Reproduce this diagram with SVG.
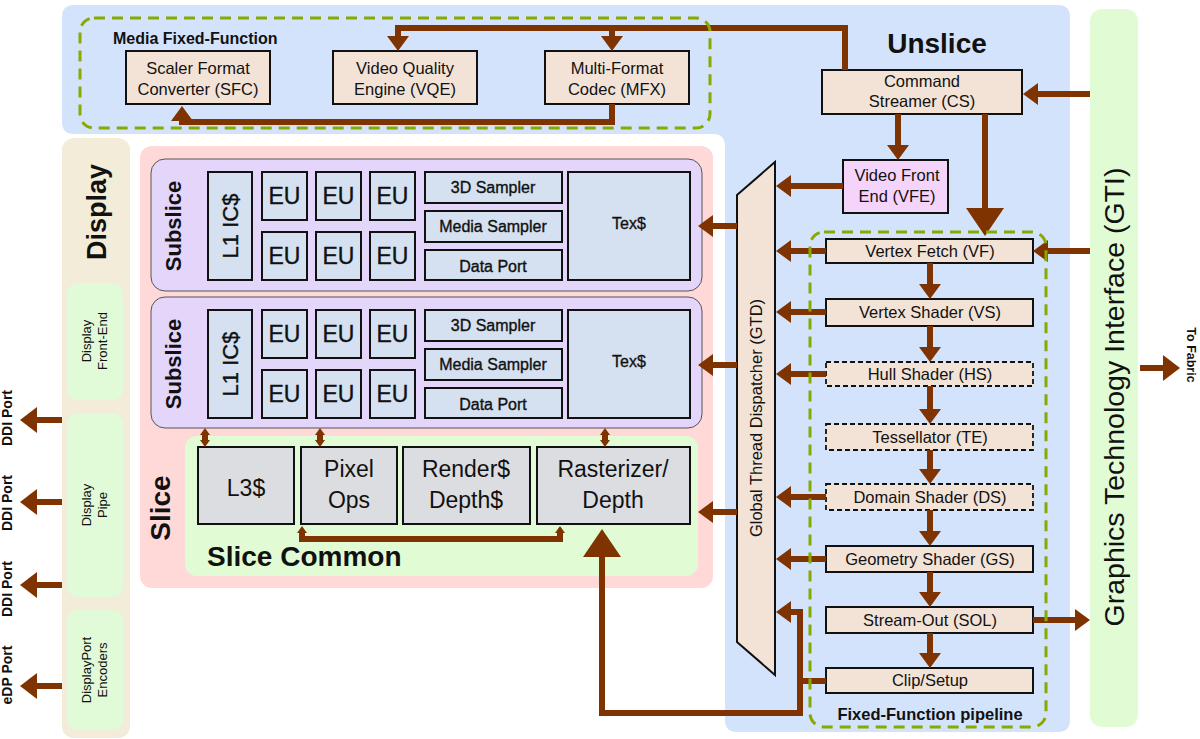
<svg xmlns="http://www.w3.org/2000/svg" width="1200" height="739" viewBox="0 0 1200 739">
<style>
text{font-family:"Liberation Sans",Arial,sans-serif;fill:#111}
.b{font-weight:bold}
.box{fill:#f3e3d7;stroke:#111;stroke-width:2}
.dbox{fill:#f3e3d7;stroke:#111;stroke-width:1.8;stroke-dasharray:5,3}
.ss{fill:#d5e0f0;stroke:#111;stroke-width:2}
.sc{fill:#dcdde1;stroke:#111;stroke-width:2}
.dg{fill:#e1fad7}
.dash{fill:none;stroke:#88aa00;stroke-width:3;stroke-dasharray:11,7}
.c{fill:none;stroke:#7f3300;stroke-width:6}
.semi{stroke:#111;stroke-width:0.35}
.t{font-size:16.5px;text-anchor:middle}
</style>
<defs>
<marker id="a" markerUnits="userSpaceOnUse" markerWidth="15" markerHeight="22" refX="0" refY="11" orient="auto"><path d="M0,0 L15,11 L0,22 z" fill="#7f3300"/></marker>
<marker id="big" markerUnits="userSpaceOnUse" markerWidth="28" markerHeight="38" refX="0" refY="19" orient="auto"><path d="M0,0 L28,19 L0,38 z" fill="#7f3300"/></marker>
<marker id="d" markerUnits="userSpaceOnUse" markerWidth="17" markerHeight="26" refX="0" refY="13" orient="auto"><path d="M0,0 L17,13 L0,26 z" fill="#7f3300"/></marker>
<marker id="s" markerUnits="userSpaceOnUse" markerWidth="7" markerHeight="10" refX="0" refY="5" orient="auto-start-reverse"><path d="M0,0 L7,5 L0,10 z" fill="#7f3300"/></marker>
</defs>

<g id="backgrounds">
<path d="M74,5 H1058 Q1070,5 1070,17 V720 Q1070,732 1058,732 H737 Q725,732 725,720 V146 Q725,134 713,134 H74 Q62,134 62,122 V17 Q62,5 74,5 Z" fill="#d3e3fb"/>
<rect x="1090" y="9" width="48" height="718" rx="12" fill="#e1fcd5"/>
<rect x="62" y="138" width="68" height="600" rx="12" fill="#f3ecd8"/>
<rect x="140" y="146" width="573" height="442" rx="12" fill="#ffd8d8"/>
</g>

<g id="sfc"><rect class="box" x="126" y="51" width="144" height="53"/>
<text class="t" x="198" y="74">Scaler Format</text>
<text class="t" x="198" y="95">Converter (SFC)</text></g>
<g id="vqe"><rect class="box" x="333" y="51" width="144" height="53"/>
<text class="t" x="405" y="74">Video Quality</text>
<text class="t" x="405" y="95">Engine (VQE)</text></g>
<g id="mfx"><rect class="box" x="545" y="51" width="144" height="53"/>
<text class="t" x="617" y="74">Multi-Format</text>
<text class="t" x="617" y="95">Codec (MFX)</text></g>

<g id="unslice"><text class="b" x="937" y="53" font-size="28" text-anchor="middle">Unslice</text></g>
<g id="cs"><rect class="box" x="822" y="70" width="200" height="44"/>
<text class="t" x="922" y="87">Command</text>
<text class="t" x="922" y="107">Streamer (CS)</text></g>
<g id="vfe"><rect x="843" y="160" width="105" height="53" fill="#f5d4fb" stroke="#111" stroke-width="2"/>
<text class="t" x="897" y="181">Video Front</text>
<text class="t" x="897" y="202">End (VFE)</text></g>
<g id="gtd"><polygon points="737,195 775,162 775,675 737,642" fill="#f3e3d7" stroke="#111" stroke-width="2"/>
<text class="t" transform="translate(762,418) rotate(-90)">Global Thread Dispatcher (GTD)</text></g>

<g id="vf"><rect class="box" x="826" y="239" width="207" height="24"/><text class="t" x="930" y="257">Vertex Fetch (VF)</text></g>
<g id="vs"><rect class="box" x="826" y="299" width="207" height="27"/><text class="t" x="930" y="318">Vertex Shader (VS)</text></g>
<g id="hs"><rect class="dbox" x="826" y="362" width="207" height="24"/><text class="t" x="930" y="380">Hull Shader (HS)</text></g>
<g id="te"><rect class="dbox" x="826" y="424" width="207" height="26"/><text class="t" x="930" y="443">Tessellator (TE)</text></g>
<g id="ds"><rect class="dbox" x="826" y="484" width="207" height="26"/><text class="t" x="930" y="503">Domain Shader (DS)</text></g>
<g id="gs"><rect class="box" x="826" y="546" width="207" height="26"/><text class="t" x="930" y="565">Geometry Shader (GS)</text></g>
<g id="sol"><rect class="box" x="826" y="607" width="207" height="26"/><text class="t" x="930" y="626">Stream-Out (SOL)</text></g>
<g id="clip"><rect class="box" x="826" y="668" width="207" height="25"/><text class="t" x="930" y="686">Clip/Setup</text></g>

<g id="gti"><text transform="translate(1114,397) rotate(-90)" font-size="28.5" text-anchor="middle" dominant-baseline="central">Graphics Technology Interface (GTI)</text></g>
<g id="fabric"><text class="b" transform="translate(1187,355) rotate(90)" font-size="12.5" text-anchor="middle">To Fabric</text></g>

<g id="slice"><text class="b" transform="translate(170,508) rotate(-90)" font-size="28" text-anchor="middle">Slice</text></g>

<g id="subslice1">
<rect x="151" y="159" width="551" height="132" rx="14" fill="#e4d5fb" stroke="#555" stroke-width="1"/>
<text class="b" transform="translate(181,226) rotate(-90)" font-size="22" text-anchor="middle">Subslice</text>
<rect class="ss" x="208" y="172" width="44" height="108"/>
<text class="semi" transform="translate(238,226) rotate(-90)" font-size="22" text-anchor="middle">L1 IC$</text>
<rect class="ss" x="262" y="172" width="45" height="48"/><text class="semi" x="284.5" y="204" font-size="23" text-anchor="middle">EU</text>
<rect class="ss" x="316" y="172" width="45" height="48"/><text class="semi" x="338.5" y="204" font-size="23" text-anchor="middle">EU</text>
<rect class="ss" x="370" y="172" width="45" height="48"/><text class="semi" x="392.5" y="204" font-size="23" text-anchor="middle">EU</text>
<rect class="ss" x="262" y="232" width="45" height="48"/><text class="semi" x="284.5" y="264" font-size="23" text-anchor="middle">EU</text>
<rect class="ss" x="316" y="232" width="45" height="48"/><text class="semi" x="338.5" y="264" font-size="23" text-anchor="middle">EU</text>
<rect class="ss" x="370" y="232" width="45" height="48"/><text class="semi" x="392.5" y="264" font-size="23" text-anchor="middle">EU</text>
<rect class="ss" x="425" y="172" width="137" height="31"/><text class="semi" x="493" y="193" font-size="16" text-anchor="middle">3D Sampler</text>
<rect class="ss" x="425" y="211" width="137" height="31"/><text class="semi" x="493" y="232" font-size="16" text-anchor="middle">Media Sampler</text>
<rect class="ss" x="425" y="250" width="137" height="30"/><text class="semi" x="493" y="272" font-size="16" text-anchor="middle">Data Port</text>
<rect class="ss" x="568" y="172" width="122" height="108"/><text class="semi" x="629" y="229" font-size="16" text-anchor="middle">Tex$</text>
</g>

<g id="subslice2">
<rect x="151" y="297" width="551" height="131" rx="14" fill="#e4d5fb" stroke="#555" stroke-width="1"/>
<text class="b" transform="translate(181,364) rotate(-90)" font-size="22" text-anchor="middle">Subslice</text>
<rect class="ss" x="208" y="310" width="44" height="108"/>
<text class="semi" transform="translate(238,364) rotate(-90)" font-size="22" text-anchor="middle">L1 IC$</text>
<rect class="ss" x="262" y="310" width="45" height="48"/><text class="semi" x="284.5" y="342" font-size="23" text-anchor="middle">EU</text>
<rect class="ss" x="316" y="310" width="45" height="48"/><text class="semi" x="338.5" y="342" font-size="23" text-anchor="middle">EU</text>
<rect class="ss" x="370" y="310" width="45" height="48"/><text class="semi" x="392.5" y="342" font-size="23" text-anchor="middle">EU</text>
<rect class="ss" x="262" y="370" width="45" height="48"/><text class="semi" x="284.5" y="402" font-size="23" text-anchor="middle">EU</text>
<rect class="ss" x="316" y="370" width="45" height="48"/><text class="semi" x="338.5" y="402" font-size="23" text-anchor="middle">EU</text>
<rect class="ss" x="370" y="370" width="45" height="48"/><text class="semi" x="392.5" y="402" font-size="23" text-anchor="middle">EU</text>
<rect class="ss" x="425" y="310" width="137" height="31"/><text class="semi" x="493" y="331" font-size="16" text-anchor="middle">3D Sampler</text>
<rect class="ss" x="425" y="349" width="137" height="31"/><text class="semi" x="493" y="370" font-size="16" text-anchor="middle">Media Sampler</text>
<rect class="ss" x="425" y="388" width="137" height="30"/><text class="semi" x="493" y="410" font-size="16" text-anchor="middle">Data Port</text>
<rect class="ss" x="568" y="310" width="122" height="108"/><text class="semi" x="629" y="367" font-size="16" text-anchor="middle">Tex$</text>
</g>

<g id="slicecommon">
<rect x="185" y="436" width="513" height="140" rx="12" fill="#e1fcd4"/>
<text class="b" x="207" y="566" font-size="28">Slice Common</text>
</g>
<g id="l3"><rect class="sc" x="198" y="447" width="96" height="77"/><text x="246" y="496" font-size="23" text-anchor="middle">L3$</text></g>
<g id="pixelops"><rect class="sc" x="301" y="447" width="96" height="77"/><text x="349" y="477" font-size="23" text-anchor="middle">Pixel</text><text x="349" y="508" font-size="23" text-anchor="middle">Ops</text></g>
<g id="render"><rect class="sc" x="403" y="447" width="127" height="77"/><text x="466" y="477" font-size="23" text-anchor="middle">Render$</text><text x="466" y="508" font-size="23" text-anchor="middle">Depth$</text></g>
<g id="raster"><rect class="sc" x="537" y="447" width="153" height="77"/><text x="613" y="477" font-size="23" text-anchor="middle">Rasterizer/</text><text x="613" y="508" font-size="23" text-anchor="middle">Depth</text></g>

<g id="display"><text class="b" transform="translate(106,212) rotate(-90)" font-size="27" text-anchor="middle">Display</text></g>
<g id="dfe"><rect class="dg" x="67" y="283" width="56" height="117" rx="10"/>
<text transform="translate(91,341) rotate(-90)" font-size="13" text-anchor="middle">Display</text>
<text transform="translate(107,341) rotate(-90)" font-size="13" text-anchor="middle">Front-End</text></g>
<g id="dpipe"><rect class="dg" x="67" y="413" width="56" height="184" rx="10"/>
<text transform="translate(91,505) rotate(-90)" font-size="13" text-anchor="middle">Display</text>
<text transform="translate(107,505) rotate(-90)" font-size="13" text-anchor="middle">Pipe</text></g>
<g id="dpenc"><rect class="dg" x="67" y="610" width="56" height="120" rx="10"/>
<text transform="translate(91,670) rotate(-90)" font-size="13" text-anchor="middle">DisplayPort</text>
<text transform="translate(107,670) rotate(-90)" font-size="13" text-anchor="middle">Encoders</text></g>
<g id="ports">
<text class="b" transform="translate(12,418) rotate(-90)" font-size="14" text-anchor="middle">DDI Port</text>
<text class="b" transform="translate(12,503) rotate(-90)" font-size="14" text-anchor="middle">DDI Port</text>
<text class="b" transform="translate(12,589) rotate(-90)" font-size="14" text-anchor="middle">DDI Port</text>
<text class="b" transform="translate(12,675) rotate(-90)" font-size="14" text-anchor="middle">eDP Port</text>
</g>

<g id="connectors">
<path class="c" d="M1090,94 H1038" marker-end="url(#a)"/>
<path class="c" d="M845,70 V28 H398 V36" marker-end="url(#a)"/>
<path class="c" d="M612,28 V36" marker-end="url(#a)"/>
<path class="c" d="M612,104 V122 H182 V121" marker-end="url(#a)"/>
<path class="c" d="M898,114 V145" marker-end="url(#a)"/>
<path class="c" d="M843,186 H791" marker-end="url(#a)"/>
<path class="c" d="M985,114 V208" stroke-width="9" marker-end="url(#big)"/>
<path class="c" d="M1090,251 H1048" marker-end="url(#a)"/>
<path class="c" d="M930,263 V284" marker-end="url(#a)"/>
<path class="c" d="M930,326 V347" marker-end="url(#a)"/>
<path class="c" d="M930,386 V409" marker-end="url(#a)"/>
<path class="c" d="M930,450 V469" marker-end="url(#a)"/>
<path class="c" d="M930,510 V531" marker-end="url(#a)"/>
<path class="c" d="M930,572 V592" marker-end="url(#a)"/>
<path class="c" d="M930,633 V653" marker-end="url(#a)"/>
<path class="c" d="M826,251 H791" marker-end="url(#a)"/>
<path class="c" d="M826,312 H791" marker-end="url(#a)"/>
<path class="c" d="M826,374 H791" marker-end="url(#a)"/>
<path class="c" d="M826,497 H791" marker-end="url(#a)"/>
<path class="c" d="M826,559 H791" marker-end="url(#a)"/>
<path class="c" d="M1033,620 H1075" marker-end="url(#a)"/>
<path class="c" d="M826,681 H800"/>
<path class="c" d="M800,713 V612 H791" marker-end="url(#a)"/>
<path class="c" d="M803,713 H602 V557" stroke-width="7" marker-end="url(#big)"/>
<path class="c" d="M737,226 H713" marker-end="url(#a)"/>
<path class="c" d="M737,365 H713" marker-end="url(#a)"/>
<path class="c" d="M737,512 H713" marker-end="url(#a)"/>
<path class="c" d="M205,435 V440" stroke-width="2.5" marker-start="url(#s)" marker-end="url(#s)"/>
<path class="c" d="M320,435 V440" stroke-width="2.5" marker-start="url(#s)" marker-end="url(#s)"/>
<path class="c" d="M605,435 V440" stroke-width="2.5" marker-start="url(#s)" marker-end="url(#s)"/>
<path class="c" d="M302,533 V539 H560 V533" stroke-width="2.5" marker-start="url(#s)" marker-end="url(#s)"/>
<path class="c" d="M62,420 H37" stroke-width="11" marker-end="url(#d)"/>
<path class="c" d="M62,502 H37" stroke-width="11" marker-end="url(#d)"/>
<path class="c" d="M62,585 H37" stroke-width="11" marker-end="url(#d)"/>
<path class="c" d="M62,686 H37" stroke-width="11" marker-end="url(#d)"/>
<path class="c" d="M1140,368 H1163" stroke-width="11" marker-end="url(#d)"/>
</g>

<g id="media">
<rect class="dash" x="80" y="18" width="630" height="110" rx="14"/>
<text class="b" x="113" y="44" font-size="16">Media Fixed-Function</text>
</g>
<g id="pipeline">
<rect class="dash" x="810" y="232" width="236" height="495" rx="14"/>
<text class="b" x="930" y="720" font-size="16.5" text-anchor="middle">Fixed-Function pipeline</text>
</g>
</svg>
